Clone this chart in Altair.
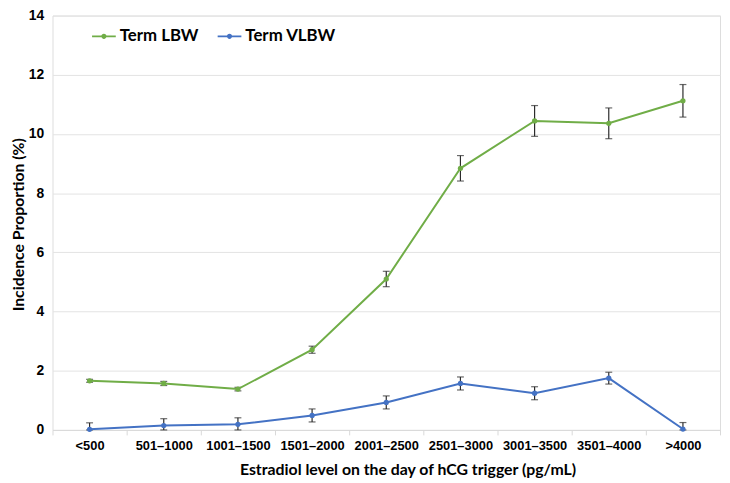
import altair as alt
import pandas as pd

categories = ["<500", "501–1000", "1001–1500", "1501–2000", "2001–2500",
              "2501–3000", "3001–3500", "3501–4000", ">4000"]
series_names = ["Term LBW", "Term VLBW"]
colors = ["#70AD47", "#4472C4"]

lbw = [1.66, 1.57, 1.38, 2.71, 5.10, 8.84, 10.44, 10.36, 11.12]
lbw_err = [0.05, 0.07, 0.06, 0.12, 0.26, 0.43, 0.52, 0.52, 0.55]
vlbw = [0.02, 0.15, 0.19, 0.49, 0.93, 1.57, 1.24, 1.75, 0.03]
vlbw_err = [0.22, 0.23, 0.22, 0.22, 0.22, 0.22, 0.22, 0.20, 0.22]

rows = []
for name, vals, errs in ((series_names[0], lbw, lbw_err), (series_names[1], vlbw, vlbw_err)):
    for c, v, e in zip(categories, vals, errs):
        rows.append({"cat": c, "series": name, "value": v,
                     "lo": max(0.0, v - e), "hi": v + e})
df = pd.DataFrame(rows)

x_axis = alt.Axis(
    title="Estradiol level on the day of hCG trigger (pg/mL)",
    labelAngle=0, tickBand="extent", grid=False, ticks=True, tickSize=5,
    tickColor="#d9d9d9", domainColor="#d9d9d9", domainWidth=1,
    labelFont="Liberation Sans", labelFontSize=13, labelFontWeight="bold",
    labelColor="#000000", labelPadding=5,
    titleFont="Lato", titleFontSize=16, titleFontWeight="bold", titleColor="#000000",
    titleX=359, titleY=45, titleBaseline="alphabetic", titleAlign="center",
)
x = alt.X("cat:N", sort=categories,
          scale=alt.Scale(type="band", paddingInner=0, paddingOuter=0),
          axis=x_axis)

y_axis = alt.Axis(
    title="Incidence Proportion (%)", values=[0, 2, 4, 6, 8, 10, 12, 14],
    grid=True, gridColor="#e3e3e3", gridWidth=1, domain=False, ticks=False,
    labelFont="Liberation Sans", labelFontSize=14, labelFontWeight="bold",
    labelColor="#000000", labelPadding=9,
    titleFont="Lato", titleFontSize=16, titleFontWeight="bold", titleColor="#000000",
    titleAngle=270, titleX=-34, titleY=211, titleBaseline="middle", titleAlign="center",
)
yscale = alt.Scale(domain=[0, 14], nice=False)

base = alt.Chart(df)

err_rule = base.mark_rule(color="#2b2b2b", strokeWidth=1.2).encode(
    x=x, y=alt.Y("lo:Q", scale=yscale, axis=y_axis), y2="hi:Q")
cap_lo = base.mark_tick(color="#2b2b2b", size=7, thickness=1.2).encode(
    x=x, y=alt.Y("lo:Q", scale=yscale, axis=y_axis))
cap_hi = base.mark_tick(color="#2b2b2b", size=7, thickness=1.2).encode(
    x=x, y=alt.Y("hi:Q", scale=yscale, axis=y_axis))

color_scale = alt.Scale(domain=series_names, range=colors)

line_layers = [
    base.transform_filter(alt.datum.series == name).mark_line(
        strokeWidth=2, color=col).encode(
        x=x, y=alt.Y("value:Q", scale=yscale, axis=y_axis))
    for name, col in zip(series_names, colors)
]

sym_path = ("M-1,-0.07 H1 V0.07 H-1 Z "
            "M0.22,0 A0.22,0.22 0 1,1 -0.22,0 A0.22,0.22 0 1,1 0.22,0 Z")

points = base.mark_point(filled=True, size=28, opacity=1).encode(
    x=x, y=alt.Y("value:Q", scale=yscale, axis=y_axis),
    color=alt.Color("series:N", scale=color_scale,
                    legend=alt.Legend(
                        title=None, orient="none", legendX=40, legendY=9,
                        direction="horizontal", symbolType=sym_path,
                        symbolSize=576, symbolStrokeWidth=0, symbolOpacity=1,
                        labelFont="Lato", labelFontSize=17, labelFontWeight="bold",
                        labelColor="#000000", labelOffset=4, columnPadding=19,
                        labelLimit=200, padding=0)))

chart = alt.layer(err_rule, cap_lo, cap_hi, *line_layers, points).properties(
    width=675, height=419,
    padding={"left": 45, "top": 5, "right": 2, "bottom": 52},
    autosize=alt.AutoSizeParams(type="none"),
).configure_view(stroke=None).configure(background="white").configure_legend(
    labelFont="Lato", labelFontSize=17, labelFontWeight="bold", labelColor="#000000"
)

chart.save("out.html", embed_options={"renderer": "svg", "actions": False})
